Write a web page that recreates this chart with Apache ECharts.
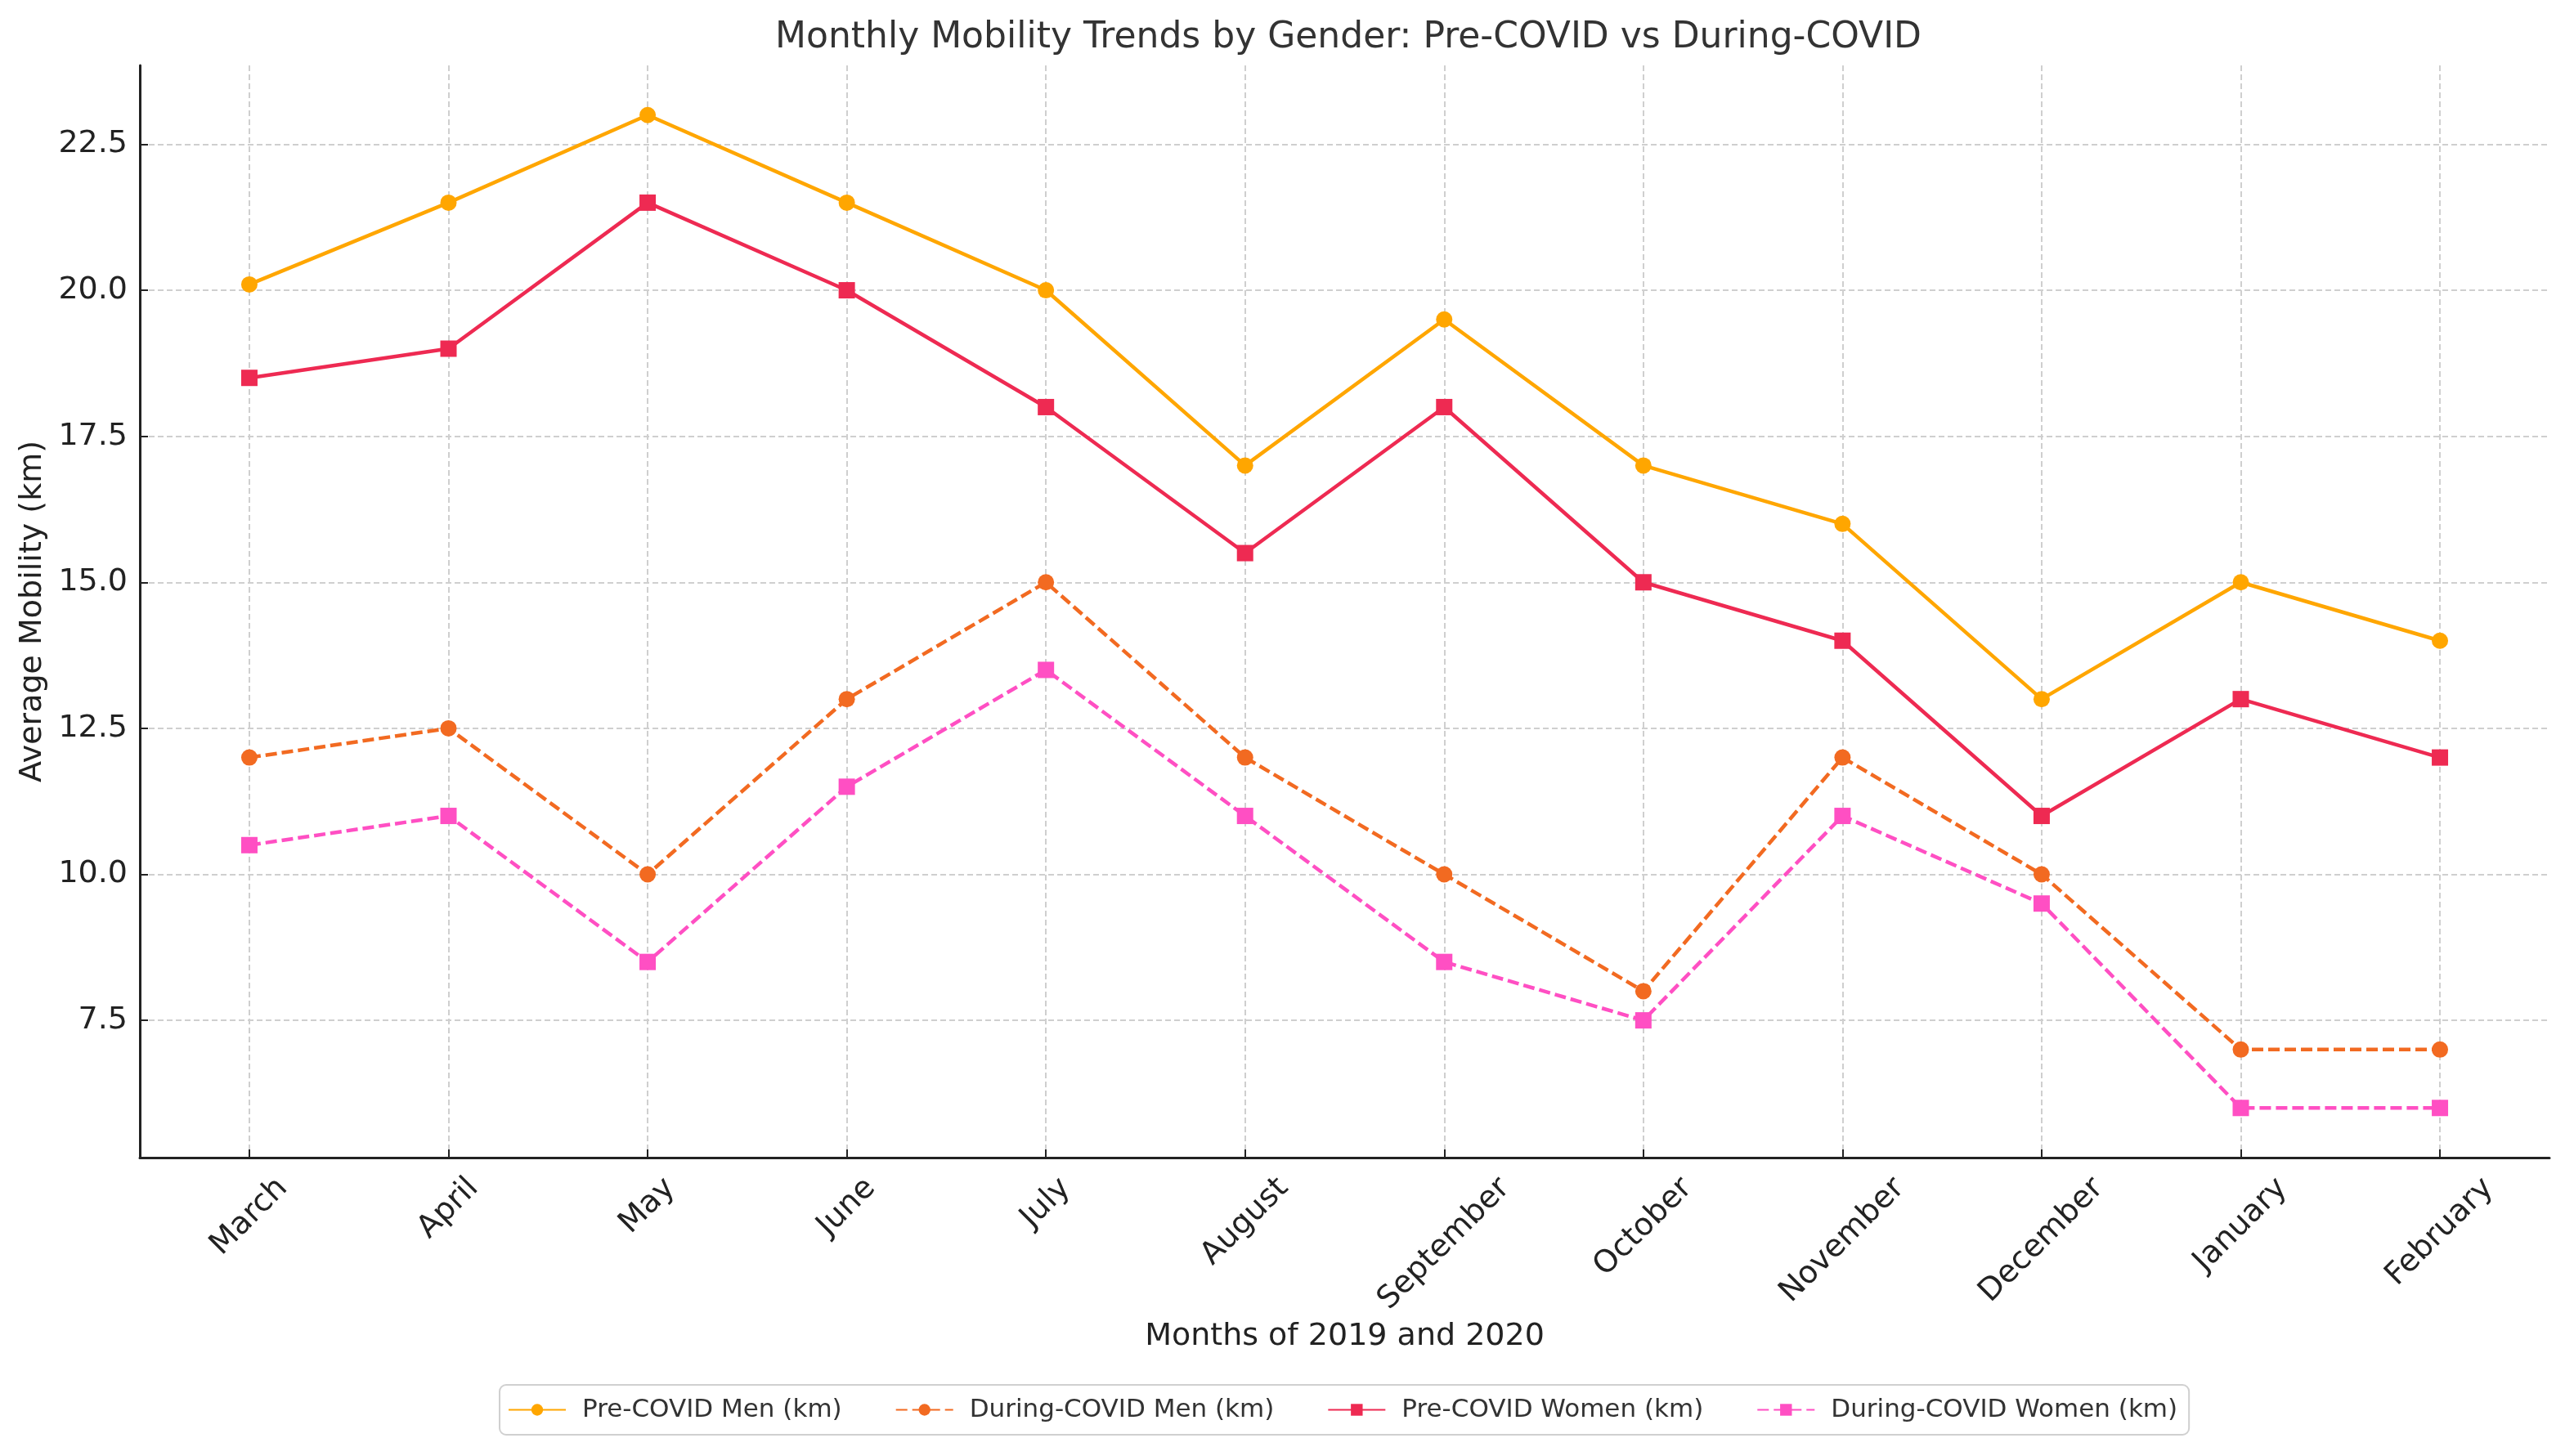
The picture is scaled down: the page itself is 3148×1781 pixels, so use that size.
<!DOCTYPE html>
<html>
<head>
<meta charset="utf-8">
<script src="https://cdn.jsdelivr.net/npm/echarts@6/dist/echarts.min.js"></script>
<style>
html,body{margin:0;padding:0;background:#fff;}
#chart{width:3148px;height:1781px;}
</style>
</head>
<body>
<div id="chart"></div>
<script>
const months = ['March','April','May','June','July','August','September','October','November','December','January','February'];
const preMen = [20.1, 21.5, 23, 21.5, 20, 17, 19.5, 17, 16, 13, 15, 14];
const duringMen = [12, 12.5, 10, 13, 15, 12, 10, 8, 12, 10, 7, 7];
const preWomen = [18.5, 19, 21.5, 20, 18, 15.5, 18, 15, 14, 11, 13, 12];
const duringWomen = [10.5, 11, 8.5, 11.5, 13.5, 11, 8.5, 7.5, 11, 9.5, 6, 6];
const yTicks = [7.5, 10, 12.5, 15, 17.5, 20, 22.5];
const seriesNames = ['Pre-COVID Men (km)', 'During-COVID Men (km)', 'Pre-COVID Women (km)', 'During-COVID Women (km)'];

const FONT = "'DejaVu Sans', sans-serif";
const tickFont = 38;

// per-label padding to mimic centred rotated labels
const cv = document.createElement('canvas').getContext('2d');
cv.font = tickFont + "px 'DejaVu Sans'";
const rich = {};
months.forEach((m, i) => {
  const L = cv.measureText(m).width;
  const h = tickFont * 1.16;
  const p = 0.5 * (L + h);
  rich['m' + i] = { fontSize: tickFont, fontFamily: FONT, color: '#222', padding: [p, p, 0, 0] };
});

const idx = months.map((m, i) => i);
const toPts = arr => arr.map((v, i) => [i, v]);

const chart = echarts.init(document.getElementById('chart'), null, { renderer: 'canvas' });
const mk = (name, data, color, symbol, dashed) => ({
  name, type: 'line', data: toPts(data),
  symbol, symbolSize: 20,
  lineStyle: { color, width: 4.5, type: dashed ? [14, 6] : 'solid' },
  itemStyle: { color },
  emphasis: { disabled: true },
  animation: false
});

chart.setOption({
  backgroundColor: '#fff',
  animation: false,
  title: {
    text: 'Monthly Mobility Trends by Gender: Pre-COVID vs During-COVID',
    left: 1644, textAlign: 'center', top: 20,
    textStyle: { fontFamily: FONT, fontSize: 44, fontWeight: 'normal', color: '#333' }
  },
  grid: { left: 171, right: 30, top: 80, bottom: 365, containLabel: false },
  legend: {
    left: 611, top: 1694,
    itemWidth: 70, itemHeight: 18, itemGap: 65,
    padding: [15, 14, 15, 10],
    borderColor: '#d0d0d0', borderWidth: 2, borderRadius: 8,
    textStyle: { fontFamily: FONT, fontSize: 31, color: '#333', padding: [0, 0, 0, 15] },
    data: seriesNames
  },
  xAxis: {
    type: 'value', min: -0.55, max: 11.55,
    name: 'Months of 2019 and 2020', nameLocation: 'middle', nameGap: 193,
    nameTextStyle: { fontFamily: FONT, fontSize: 38, color: '#222' },
    axisLine: { show: true, onZero: false, lineStyle: { color: '#222', width: 3 } },
    axisTick: { show: true, inside: true, length: 10, customValues: idx, lineStyle: { color: '#222', width: 2 } },
    axisLabel: {
      customValues: idx, rotate: 45, margin: 16, align: 'center', verticalAlign: 'middle',
      formatter: v => '{m' + v + '|' + months[v] + '}', rich
    },
    splitLine: { show: true, lineStyle: { color: '#cfcfcf', width: 2, type: [7, 4] } }
  },
  yAxis: {
    type: 'value', min: 5.15, max: 23.85,
    name: 'Average Mobility (km)', nameLocation: 'middle', nameGap: 112,
    nameTextStyle: { fontFamily: FONT, fontSize: 38, color: '#222' },
    axisLine: { show: true, onZero: false, lineStyle: { color: '#222', width: 3 } },
    axisTick: { show: true, inside: true, length: 10, customValues: yTicks, lineStyle: { color: '#222', width: 2 } },
    axisLabel: {
      customValues: yTicks, margin: 15,
      fontFamily: FONT, fontSize: tickFont, color: '#222',
      formatter: v => v.toFixed(1)
    },
    splitLine: { show: true, lineStyle: { color: '#cfcfcf', width: 2, type: [7, 4] } }
  },
  series: [
    mk(seriesNames[0], preMen, '#FFA600', 'circle', false),
    mk(seriesNames[1], duringMen, '#F26A21', 'circle', true),
    mk(seriesNames[2], preWomen, '#EE2A52', 'rect', false),
    mk(seriesNames[3], duringWomen, '#FF4FC3', 'rect', true)
  ]
});
</script>
</body>
</html>
